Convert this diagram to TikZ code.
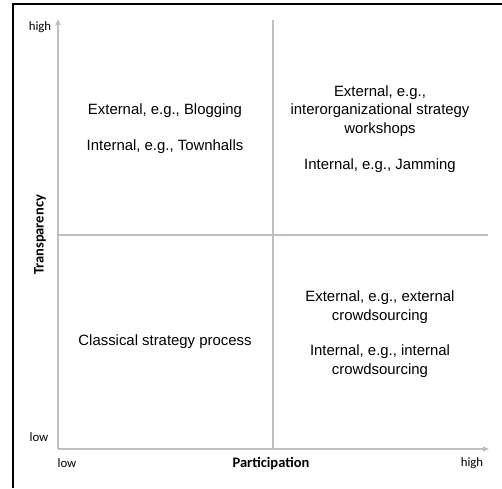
\documentclass[tikz,border=0pt]{standalone}
\usepackage{fontspec}
\setmainfont{Liberation Sans}
\newfontfamily\calib{Carlito}
\usetikzlibrary{arrows.meta}
\definecolor{axisgray}{RGB}{190,190,196}
\begin{document}
\begin{tikzpicture}[x=1pt,y=-1pt,
  axis/.style={draw=axisgray,line width=1.3pt},
  axarrow/.style={axis,-{Triangle[length=6pt,width=5pt]}},
  quad/.style={align=center,font=\fontsize{14.9}{18.3}\selectfont,inner sep=0pt},
  tick/.style={font=\calib\fontsize{12.8}{14}\selectfont,inner sep=0pt},
  title/.style={font=\calib\bfseries\fontsize{14.5}{16}\selectfont,inner sep=0pt}]
\useasboundingbox (0,0) rectangle (502,488);
% frame (left and top edges only visible)
\draw[line width=1.2pt] (13,488) -- (13,4) -- (502,4);
% axes
\coordinate (O) at (58,449);
\coordinate (ytop) at (58,19);
\coordinate (xend) at (489,449);
\coordinate (vtop) at (273,20);
\coordinate (vbot) at (273,449);
\coordinate (hl) at (58,235);
\coordinate (hr) at (488,235);
\draw[axis] (vtop) -- (vbot);
\draw[axis] (hl) -- (hr);
\draw[axarrow] (O) -- (ytop);
\draw[axarrow] (O) -- (xend);
% axis labels
\node[tick] (yhigh) at (40,27) {high};
\node[tick] (ylow) at (39,437) {low};
\node[tick] (xlow) at (67,463) {low};
\node[tick] (xhigh) at (472,463) {high};
\node[title] (xt) at (271,464) {Participation};
\node[title,rotate=90] (yt) at (40,235) {Transparency};
% quadrant texts
\node[quad] (tl1) at (165,111) {External, e.g., Blogging};
\node[quad] (tl2) at (165,147) {Internal, e.g., Townhalls};
\node[quad] (tr1) at (380,111) {External, e.g.,\\interorganizational strategy\\workshops};
\node[quad] (tr2) at (380,166) {Internal, e.g., Jamming};
\node[quad] (bl) at (165,342) {Classical strategy process};
\node[quad] (br1) at (380,307) {External, e.g., external\\crowdsourcing};
\node[quad] (br2) at (380,361) {Internal, e.g., internal\\crowdsourcing};
\end{tikzpicture}
\end{document}
